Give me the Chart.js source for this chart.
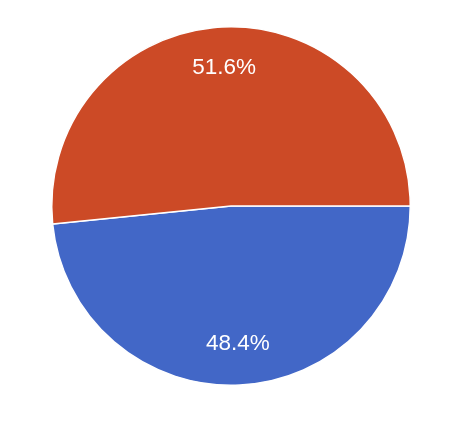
<!DOCTYPE html>
<html>
<head>
<meta charset="utf-8">
<script src="https://cdn.jsdelivr.net/npm/chart.js@4.4.0/dist/chart.umd.min.js"></script>
<style>
html,body{margin:0;padding:0;background:#fff;}
#wrap{position:relative;width:470px;height:430px;}
</style>
</head>
<body>
<div id="wrap"><canvas id="c" width="470" height="430"></canvas></div>
<script>
const categories = ["A", "B"];
const values = [48.4, 51.6];
const labels = ["48.4%", "51.6%"];
const colors = ["#4267c7", "#cc4a26"];

const labelPlugin = {
  id: 'sliceLabels',
  afterDatasetsDraw(chart) {
    const ctx = chart.ctx;
    const meta = chart.getDatasetMeta(0);
    ctx.save();
    ctx.fillStyle = '#ffffff';
    ctx.font = '22.5px "Liberation Sans", Arial, sans-serif';
    ctx.textAlign = 'center';
    ctx.textBaseline = 'middle';
    meta.data.forEach((arc, i) => {
      const p = arc.getProps(['x','y','startAngle','endAngle','outerRadius'], true);
      const mid = (p.startAngle + p.endAngle) / 2;
      const r = p.outerRadius * 0.77;
      ctx.fillText(labels[i], p.x + Math.cos(mid) * r, p.y + Math.sin(mid) * r);
    });
    ctx.restore();
  }
};

new Chart(document.getElementById('c'), {
  type: 'pie',
  data: {
    labels: categories,
    datasets: [{
      data: values,
      backgroundColor: colors,
      borderColor: '#ffffff',
      borderWidth: 1.5
    }]
  },
  options: {
    responsive: false,
    animation: false,
    rotation: 90,
    layout: { padding: { left: 51, right: 59, top: 26, bottom: 44 } },
    plugins: { legend: { display: false }, tooltip: { enabled: false } }
  },
  plugins: [labelPlugin]
});
</script>
</body>
</html>
